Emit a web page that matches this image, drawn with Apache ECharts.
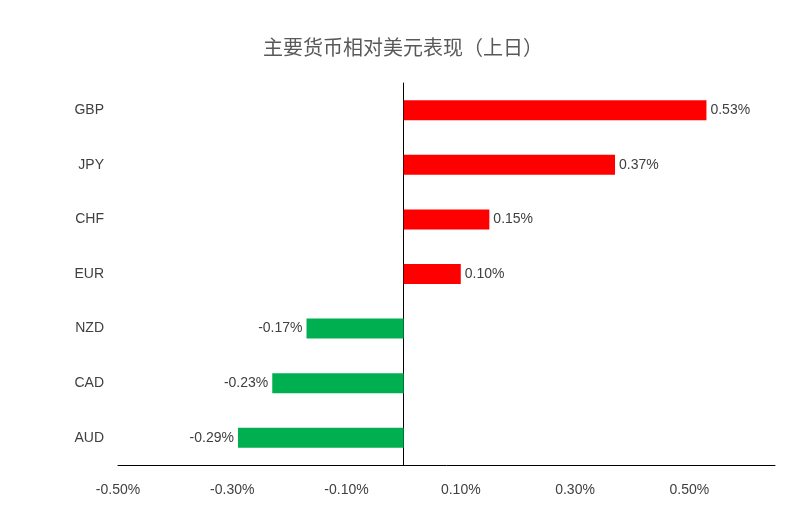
<!DOCTYPE html>
<html><head><meta charset="utf-8">
<script src="https://cdn.jsdelivr.net/npm/echarts@6/dist/echarts.min.js"></script>
<style>html,body{margin:0;padding:0;background:#fff}#c{width:806px;height:532px}</style>
</head><body><div id="c"></div>
<script>
const categories = ['AUD','CAD','NZD','EUR','CHF','JPY','GBP'];
const values = [-0.29,-0.23,-0.17,0.10,0.15,0.37,0.53];
const chart = echarts.init(document.getElementById('c'));
const font = '"Liberation Sans", Arial, sans-serif';
chart.setOption({
  animation:false,
  title:{text:'主要货币相对美元表现（上日）',left:'center',top:32,textStyle:{fontFamily:'"Noto Sans CJK SC"',fontSize:20,fontWeight:'normal',color:'#595959'}},
  grid:{left:118,right:31,top:83,bottom:67},
  xAxis:{type:'value',min:-0.5,max:0.65,interval:0.2,splitLine:{show:false},
    axisLine:{show:true,lineStyle:{color:'#000'}},axisTick:{show:false},
    axisLabel:{showMaxLabel:false,formatter:v=>v.toFixed(2)+'%',color:'#404040',fontSize:14,fontFamily:font,margin:18}},
  yAxis:[
    {type:'category',data:categories,axisLine:{onZero:true,lineStyle:{color:'#000'}},axisTick:{show:false},axisLabel:{show:false}},
    {type:'category',data:categories,position:'left',axisLine:{show:false,onZero:false},axisTick:{show:false},
      axisLabel:{color:'#404040',fontSize:14,fontFamily:font,margin:14}}
  ],
  series:[{type:'bar',yAxisIndex:0,barWidth:20,
    data:values.map(v=>({value:v,itemStyle:{color:v>=0?'#ff0000':'#00b050'}})),
    label:{show:true,position:'right',formatter:p=>p.value.toFixed(2)+'%',color:'#404040',fontSize:14,fontFamily:font,distance:4}
  }]
});
chart.on('finished',()=>{});
// negative labels on left
chart.setOption({series:[{data:values.map(v=>({value:v,itemStyle:{color:v>=0?'#ff0000':'#00b050'},label:{position:v>=0?'right':'left'}}))}]});
</script></body></html>
